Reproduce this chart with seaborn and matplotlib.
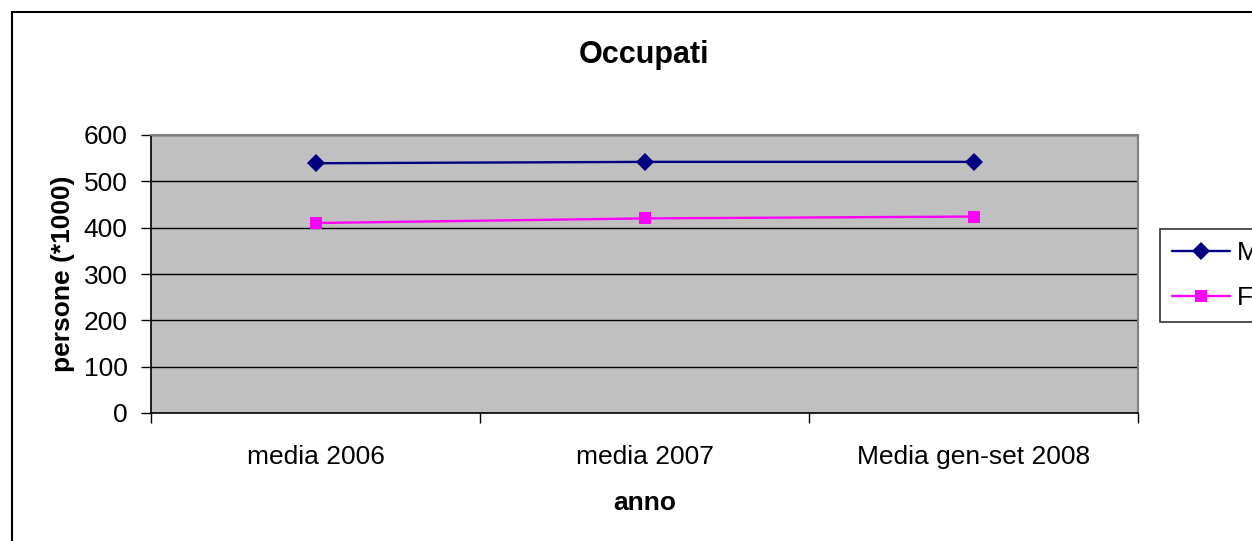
import matplotlib
matplotlib.use("Agg")
import matplotlib.pyplot as plt
from matplotlib.patches import Rectangle
import seaborn as sns
import pandas as pd

# Occupied persons (thousands) by period and sex
periodi = ["media 2006", "media 2007", "Media gen-set 2008"]
maschi = [539, 542, 542]
femmine = [410, 420, 424]
y_ticks = [0, 100, 200, 300, 400, 500, 600]

sns.set_theme(style="white")
plt.rcParams["font.family"] = ["Liberation Sans", "DejaVu Sans"]
plt.rcParams["text.color"] = "black"
plt.rcParams["xtick.color"] = "black"
plt.rcParams["ytick.color"] = "black"
plt.rcParams["axes.labelcolor"] = "black"

df = pd.DataFrame({
    "periodo": periodi * 2,
    "valore": maschi + femmine,
    "sesso": ["M"] * len(periodi) + ["F"] * len(periodi),
})

fig = plt.figure(figsize=(12.52, 5.41), dpi=100)
fig.patch.set_facecolor("white")
# outer chart frame (continues past the right and bottom edges)
fig.patches.append(Rectangle((12 / 1252, -0.1), 1.2, (541 - 12) / 541 + 0.1,
                             transform=fig.transFigure, fill=False,
                             edgecolor="black", linewidth=1.5, zorder=0))

ax = fig.add_axes([151 / 1252, (541 - 413) / 541, (1138 - 151) / 1252, (413 - 135) / 541])
ax.set_facecolor("#C0C0C0")

sns.lineplot(data=df, x="periodo", y="valore", hue="sesso", style="sesso",
             palette={"M": "#000080", "F": "#FF00FF"},
             markers={"M": "D", "F": "s"}, dashes=False,
             markersize=9, linewidth=1.7, markeredgewidth=0,
             ax=ax, legend=False, sort=False)

ax.set_xlim(-0.5, len(periodi) - 0.5)
ax.set_ylim(0, 600)
ax.set_yticks(y_ticks)
ax.yaxis.grid(True, color="black", linewidth=1.0)
ax.set_axisbelow(True)

# category labels centred in each bin, tick marks on bin boundaries
ax.set_xticks([i - 0.5 for i in range(len(periodi) + 1)])
ax.set_xticklabels([])
ax.set_xticks(range(len(periodi)), minor=True)
ax.set_xticklabels(periodi, minor=True)
ax.tick_params(axis="x", which="minor", bottom=True, length=0, pad=23, labelsize=19)
ax.tick_params(axis="x", which="major", bottom=True, length=7, width=1, color="black", direction="out")
ax.tick_params(axis="y", left=True, length=7, width=1, color="black", direction="out", pad=10, labelsize=19)

for side in ["left", "bottom"]:
    ax.spines[side].set_color("black")
    ax.spines[side].set_linewidth(1.2)
for side in ["top", "right"]:
    ax.spines[side].set_color("#808080")
    ax.spines[side].set_linewidth(1.5)

ax.set_xlabel("anno", fontsize=19, fontweight="bold", labelpad=16)
ax.set_ylabel("persone (*1000)", fontsize=19, fontweight="bold", labelpad=6)
fig.text((151 + 1138) / 2 / 1252, 1 - 63 / 541, "Occupati", ha="center", va="baseline",
         fontsize=22, fontweight="bold")

# legend box sits at the right edge, partly outside the figure
handles = [plt.Line2D([], [], color="#000080", marker="D", markersize=9, linewidth=1.7, markeredgewidth=0),
           plt.Line2D([], [], color="#FF00FF", marker="s", markersize=9, linewidth=1.7, markeredgewidth=0)]
leg = fig.legend(handles, ["M", "F"], loc="upper left",
                 bbox_to_anchor=(1160 / 1252, 1 - 229 / 541), bbox_transform=fig.transFigure,
                 frameon=True, fancybox=False, fontsize=19, handlelength=2.2,
                 borderpad=0.45, labelspacing=0.8, handletextpad=0.25, borderaxespad=0)
leg.get_frame().set_edgecolor("black")
leg.get_frame().set_linewidth(1.2)

fig.savefig("out.png", dpi=100)
